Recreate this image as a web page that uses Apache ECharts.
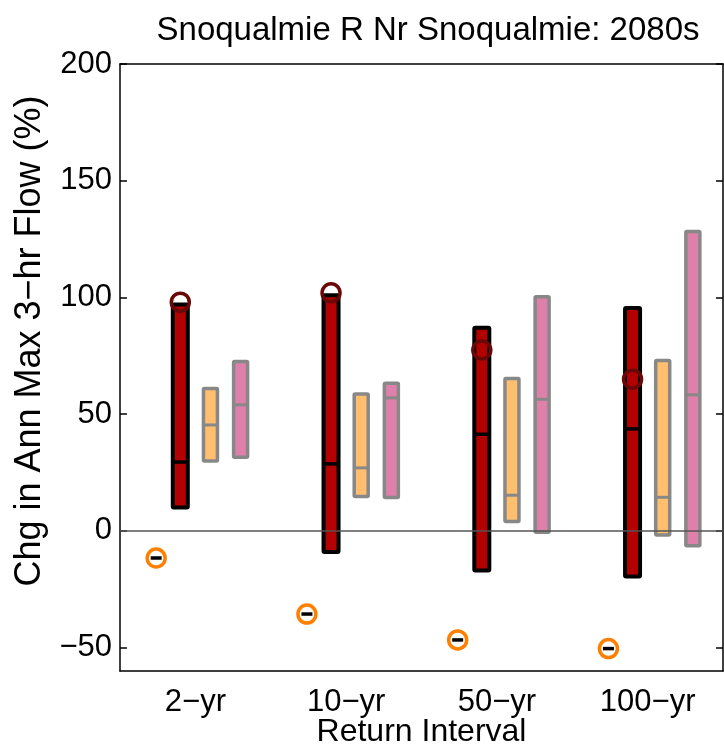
<!DOCTYPE html>
<html>
<head>
<meta charset="utf-8">
<script src="https://cdn.jsdelivr.net/npm/echarts@6/dist/echarts.min.js"></script>
<style>
  html, body { margin: 0; padding: 0; background: #fff; }
  #chart { width: 724px; height: 746px; }
</style>
</head>
<body>
<div id="chart"></div>
<script>
const categories = ['2−yr', '10−yr', '50−yr', '100−yr']
const yTicks = [-50, 0, 50, 100, 150, 200]

// dark red range (low, median, high)
const redLow = [10, -9, -17, -19.5]
const redMed = [29.5, 28.7, 41.4, 43.7]
const redHigh = [97, 101, 87, 95.5]

// orange range
const orangeLow = [30, 14.7, 4, -1.7]
const orangeMed = [45.4, 27, 15.3, 14.4]
const orangeHigh = [61, 58.6, 65.3, 73]

// pink range
const pinkLow = [31.6, 14.3, -0.6, -6.3]
const pinkMed = [54, 57, 56.4, 58.3]
const pinkHigh = [72.6, 63.3, 100.3, 128.3]

// single points
const redPoint = [98, 102, 77.5, 65]
const orangePoint = [-11.6, -35.6, -46.7, -50.4]

const font = "'Liberation Sans', Arial, Helvetica, sans-serif"

const chart = echarts.init(document.getElementById('chart'))

// box drawn at a fraction of the category band away from its centre
const boxSeries = (name, low, med, high, offset, fill, stroke, width, lw) => ({
  type: 'custom',
  name: name,
  z: 3,
  data: low.map((l, i) => [i, l, med[i], high[i]]),
  encode: { x: 0, y: [1, 3] },
  renderItem: (params, api) => {
    const i = api.value(0)
    const band = api.size([1, 0])[0]
    const x = api.coord([i, 0])[0] + offset * band
    const yLo = api.coord([i, api.value(1)])[1]
    const yMed = api.coord([i, api.value(2)])[1]
    const yHi = api.coord([i, api.value(3)])[1]
    return {
      type: 'group',
      children: [
        {
          type: 'rect',
          shape: { x: x - width / 2, y: yHi, width: width, height: yLo - yHi, r: 1 },
          style: { fill: fill, stroke: stroke, lineWidth: lw }
        },
        {
          type: 'line',
          shape: { x1: x - width / 2, y1: yMed, x2: x + width / 2, y2: yMed },
          style: { stroke: stroke, lineWidth: lw - 0.5 }
        }
      ]
    }
  }
})

const pointSeries = (name, values, offset, ring, dash) => ({
  type: 'custom',
  name: name,
  z: 4,
  data: values.map((v, i) => [i, v]),
  encode: { x: 0, y: 1 },
  renderItem: (params, api) => {
    const i = api.value(0)
    const band = api.size([1, 0])[0]
    const x = api.coord([i, 0])[0] + offset * band
    const y = api.coord([i, api.value(1)])[1]
    const children = [{
      type: 'circle',
      shape: { cx: x, cy: y, r: 9 },
      style: { fill: 'none', stroke: ring, lineWidth: 3.5 }
    }]
    if (dash) {
      children.push({
        type: 'line',
        shape: { x1: x - 5.5, y1: y, x2: x + 5.5, y2: y },
        style: { stroke: '#000', lineWidth: 3.5 }
      })
    }
    return { type: 'group', children: children }
  }
})

const tickLabel = v => (v < 0 ? '−' + Math.abs(v) : String(v))

const option = {
  animation: false,
  title: {
    text: 'Snoqualmie R Nr Snoqualmie: 2080s',
    left: 423,
    top: 9,
    textAlign: 'center',
    textStyle: { fontFamily: font, fontSize: 33, fontWeight: 'normal', color: '#000' }
  },
  // y axis title sits a little above the plot centre, as in the original
  graphic: [{
    type: 'text',
    x: 30,
    y: 341,
    rotation: Math.PI / 2,
    style: {
      text: 'Chg in Ann Max 3−hr Flow (%)',
      font: '36px ' + font,
      fill: '#000',
      textAlign: 'center',
      textVerticalAlign: 'middle'
    }
  }],
  grid: { left: 120, right: 1, top: 64, bottom: 75, containLabel: false, outerBoundsMode: 'none' },
  xAxis: [
    {
      type: 'category',
      data: categories,
      position: 'bottom',
      name: 'Return Interval',
      nameLocation: 'middle',
      nameGap: 45,
      nameMoveOverlap: false,
      nameTextStyle: { fontFamily: font, fontSize: 32, color: '#000' },
      axisLine: { onZero: false, lineStyle: { color: '#000', width: 1.5 } },
      axisTick: { alignWithLabel: true, inside: true, length: 7, lineStyle: { color: '#000', width: 1.5 } },
      axisLabel: { fontFamily: font, fontSize: 31, color: '#000', margin: 16 },
      splitLine: { show: false }
    },
    {
      type: 'category',
      data: categories,
      position: 'top',
      axisLine: { onZero: false, lineStyle: { color: '#000', width: 1.5 } },
      axisTick: { alignWithLabel: true, inside: true, length: 7, lineStyle: { color: '#000', width: 1.5 } },
      axisLabel: { show: false }
    }
  ],
  yAxis: [
    {
      type: 'value',
      min: -60,
      max: 200,
      position: 'left',
      axisLine: { show: true, onZero: false, lineStyle: { color: '#000', width: 1.5 } },
      axisTick: { show: true, inside: true, length: 7, customValues: yTicks, lineStyle: { color: '#000', width: 1.5 } },
      axisLabel: { customValues: yTicks, formatter: tickLabel, fontFamily: font, fontSize: 31, color: '#000', margin: 8 },
      splitLine: { show: false }
    },
    {
      type: 'value',
      min: -60,
      max: 200,
      position: 'right',
      axisLine: { show: true, onZero: false, lineStyle: { color: '#000', width: 1.5 } },
      axisTick: { show: true, inside: true, length: 7, customValues: yTicks, lineStyle: { color: '#000', width: 1.5 } },
      axisLabel: { show: false },
      splitLine: { show: false }
    }
  ],
  series: [
    {
      type: 'line',
      data: [],
      z: 1,
      markLine: {
        silent: true,
        symbol: 'none',
        label: { show: false },
        lineStyle: { color: '#555', width: 1.5, type: 'solid' },
        data: [{ yAxis: 0 }]
      }
    },
    boxSeries('red', redLow, redMed, redHigh, -0.1, '#b30000', '#000', 15, 4),
    boxSeries('orange', orangeLow, orangeMed, orangeHigh, 0.1, '#ffbf6e', '#888', 14, 3.5),
    boxSeries('pink', pinkLow, pinkMed, pinkHigh, 0.3, '#de80a9', '#888', 14, 3.5),
    pointSeries('redPoint', redPoint, -0.1, '#6a0808', false),
    pointSeries('orangePoint', orangePoint, -0.26, '#ff7f00', true)
  ]
}

chart.setOption(option)
</script>
</body>
</html>
